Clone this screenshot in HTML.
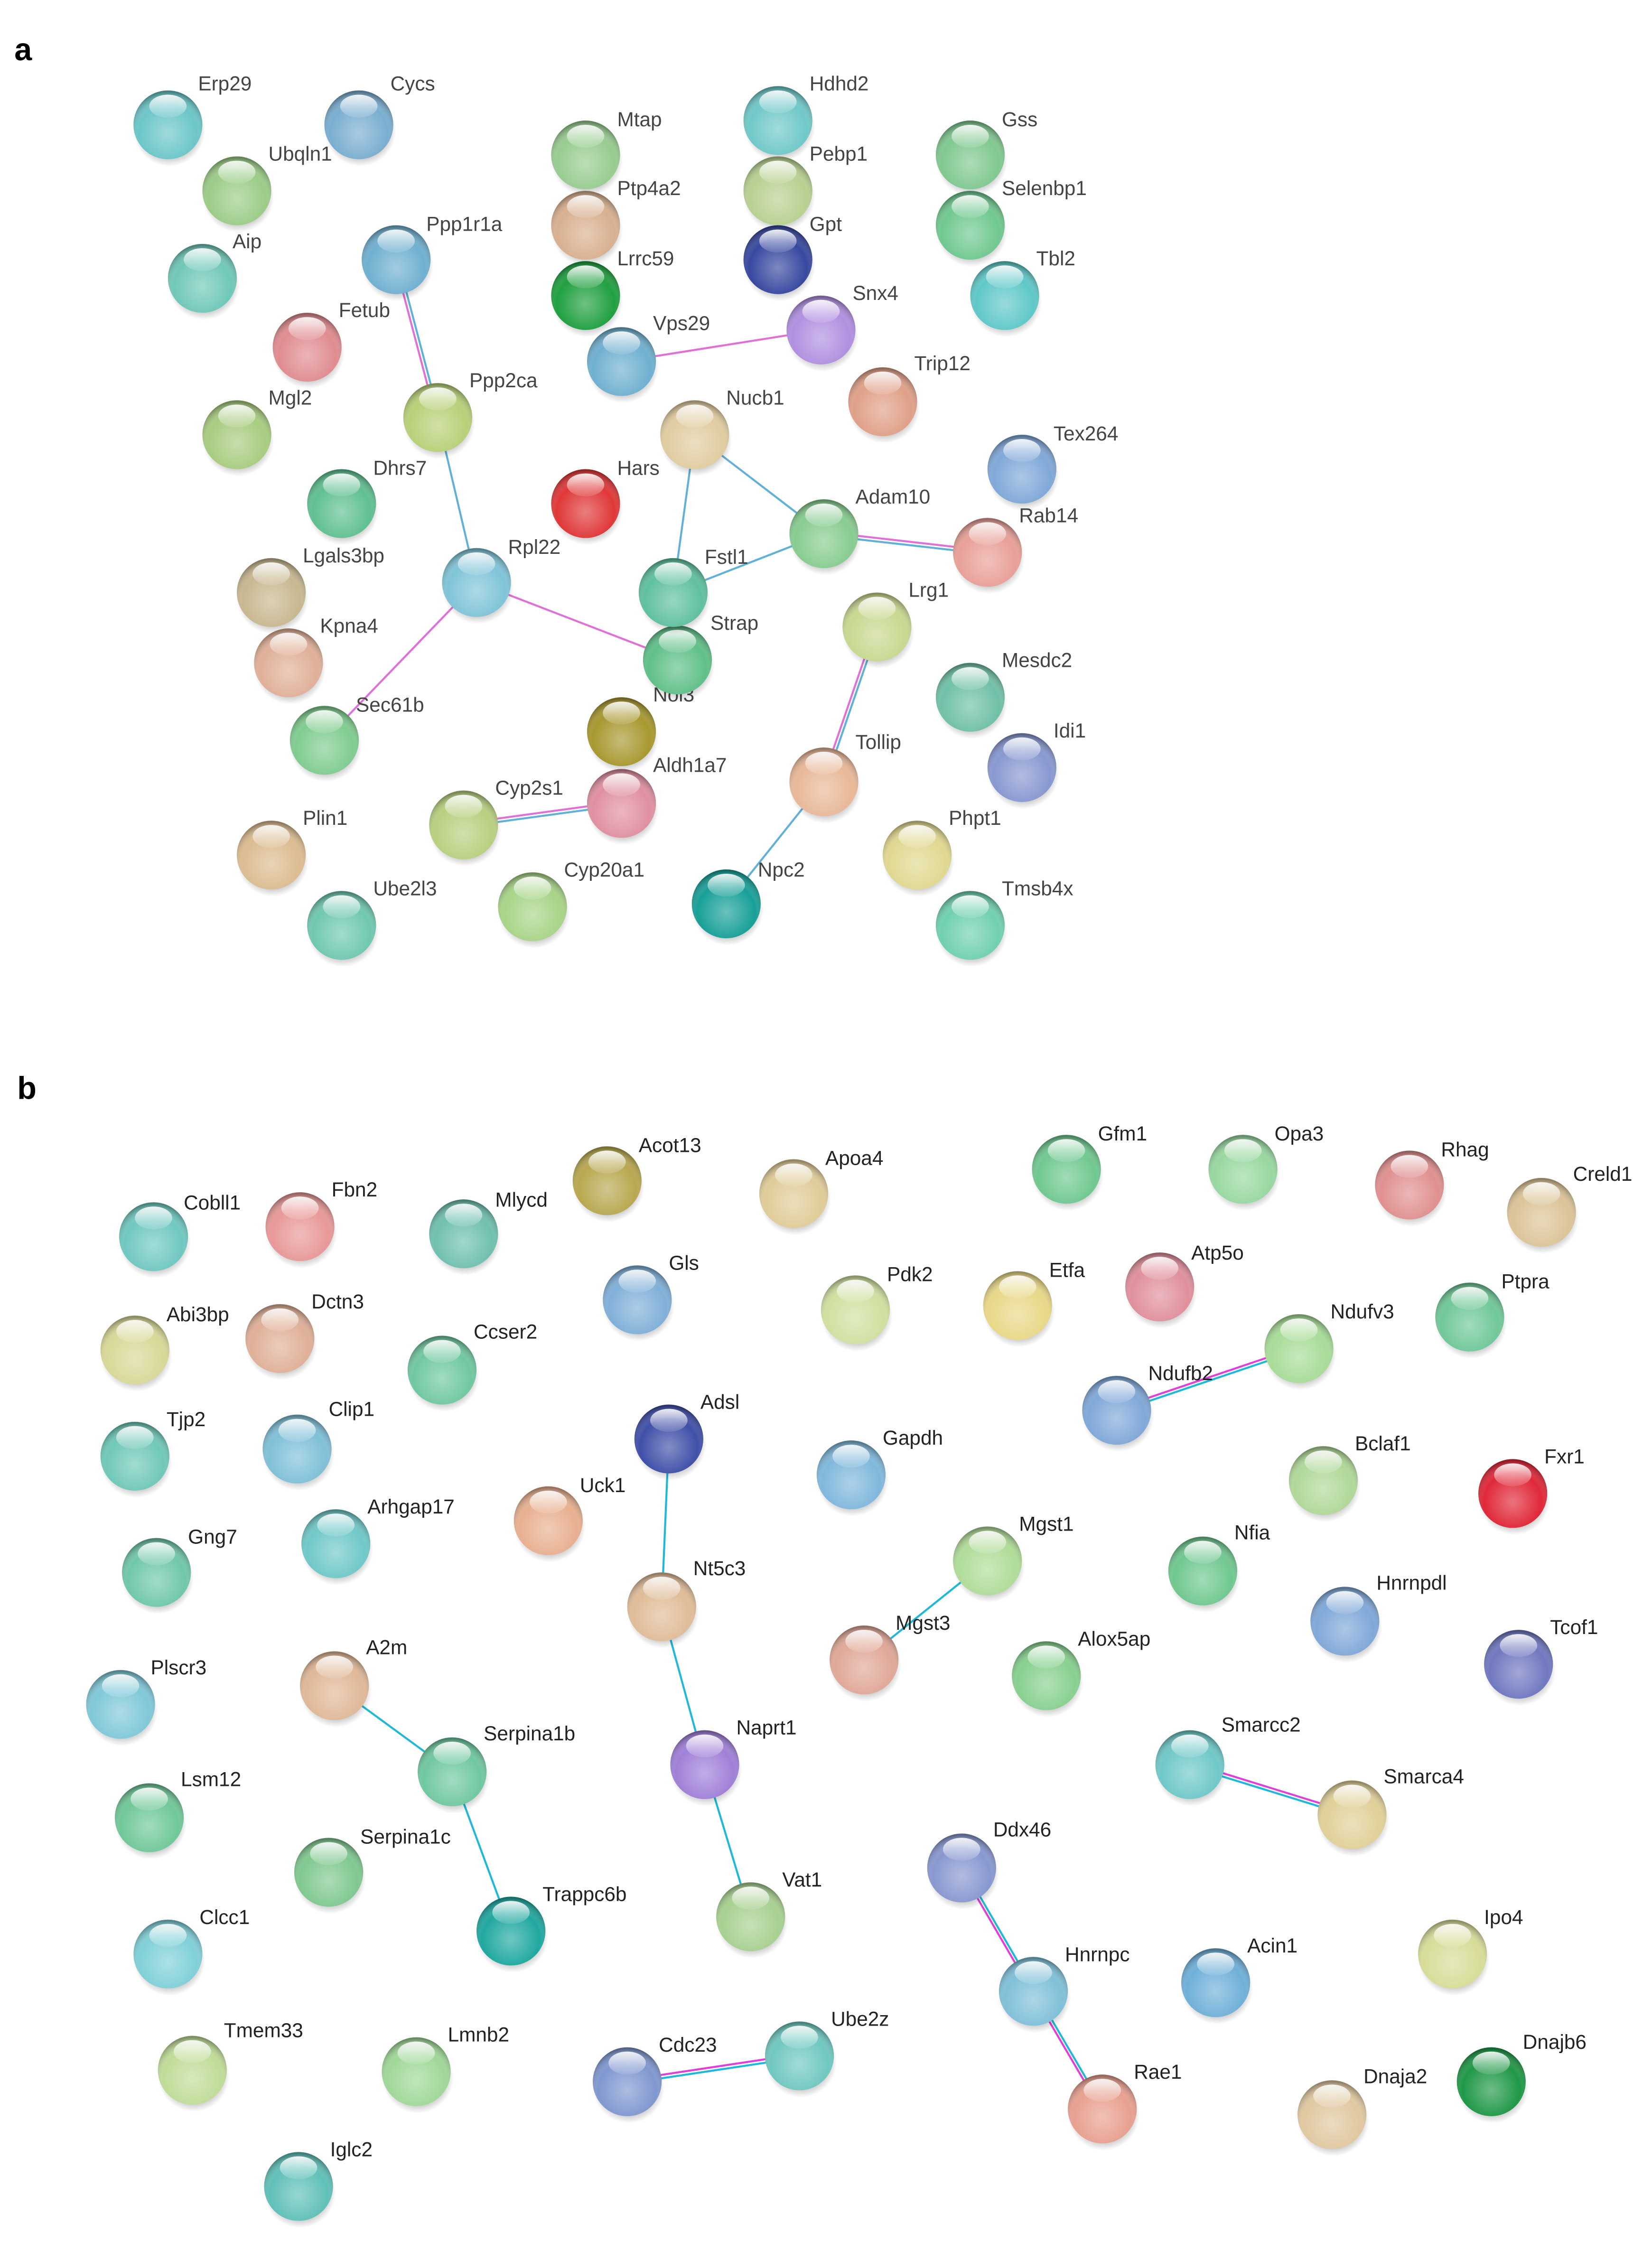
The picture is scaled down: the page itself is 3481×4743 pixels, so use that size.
<!DOCTYPE html>
<html><head><meta charset="utf-8"><style>
html,body{margin:0;padding:0;background:#fff}
svg{display:block}
text{font-family:"Liberation Sans",sans-serif;font-size:14px;fill:#444}
.b text{fill:#222}
.pl{font-size:22px;font-weight:bold;fill:#000}
</style></head><body>
<svg width="3481" height="4743" viewBox="0 0 1151 1569" preserveAspectRatio="none" xmlns="http://www.w3.org/2000/svg">
<defs>
<radialGradient id="sh" cx="0.5" cy="0.62" r="0.6">
<stop offset="0" stop-color="#fff" stop-opacity="0.35"/>
<stop offset="0.7" stop-color="#fff" stop-opacity="0"/>
<stop offset="1" stop-color="#000" stop-opacity="0.35"/>
</radialGradient>
<linearGradient id="hl" x1="0" y1="0" x2="0" y2="1">
<stop offset="0" stop-color="#fff" stop-opacity="0.9"/>
<stop offset="1" stop-color="#fff" stop-opacity="0.1"/>
</linearGradient>
<radialGradient id="sd" cx="0.5" cy="0.5" r="0.5">
<stop offset="0.6" stop-color="#000" stop-opacity="0.35"/>
<stop offset="1" stop-color="#000" stop-opacity="0"/>
</radialGradient>
<g id="ov">
<circle r="24" fill="url(#sh)"/>
<ellipse cx="0" cy="-13" rx="13" ry="8" fill="url(#hl)"/>
</g>
<g id="sdw"><ellipse cx="1" cy="4" rx="25" ry="25" fill="url(#sd)"/></g>
</defs>
<text class="pl" x="10" y="42">a</text>
<text class="pl" x="12" y="766">b</text>

<g stroke-width="1.4" fill="none">
<line x1="274.8" y1="181" x2="303.8" y2="291" stroke="#e070d8"/>
<line x1="277.2" y1="181" x2="306.2" y2="291" stroke="#60b0d8"/>
<line x1="305" y1="291" x2="332" y2="406" stroke="#60b0d8"/>
<line x1="332" y1="406" x2="226" y2="516" stroke="#e070d8"/>
<line x1="332" y1="406" x2="472" y2="460" stroke="#e070d8"/>
<line x1="433" y1="252" x2="572" y2="230" stroke="#e070d8"/>
<line x1="484" y1="303" x2="469" y2="413" stroke="#60b0d8"/>
<line x1="484" y1="303" x2="574" y2="372" stroke="#60b0d8"/>
<line x1="469" y1="413" x2="574" y2="372" stroke="#60b0d8"/>
<line x1="574" y1="370.8" x2="688" y2="383.8" stroke="#e070d8"/>
<line x1="574" y1="373.2" x2="688" y2="386.2" stroke="#60b0d8"/>
<line x1="609.8" y1="437" x2="572.8" y2="545" stroke="#e070d8"/>
<line x1="612.2" y1="437" x2="575.2" y2="545" stroke="#60b0d8"/>
<line x1="574" y1="545" x2="506" y2="630" stroke="#60b0d8"/>
<line x1="323" y1="573.8" x2="433" y2="558.8" stroke="#e070d8"/>
<line x1="323" y1="576.2" x2="433" y2="561.2" stroke="#60b0d8"/>
</g>
<g stroke-width="1.4" fill="none">
<line x1="778" y1="981.8" x2="905" y2="938.8" stroke="#e040d8"/>
<line x1="778" y1="984.2" x2="905" y2="941.2" stroke="#20b8d8"/>
<line x1="466" y1="1003" x2="461" y2="1120" stroke="#20b8d8"/>
<line x1="461" y1="1120" x2="491" y2="1230" stroke="#20b8d8"/>
<line x1="491" y1="1230" x2="523" y2="1336" stroke="#20b8d8"/>
<line x1="688" y1="1088" x2="602" y2="1157" stroke="#20b8d8"/>
<line x1="233" y1="1175" x2="315" y2="1235" stroke="#20b8d8"/>
<line x1="315" y1="1235" x2="356" y2="1346" stroke="#20b8d8"/>
<line x1="829" y1="1228.8" x2="942" y2="1263.8" stroke="#e040d8"/>
<line x1="829" y1="1231.2" x2="942" y2="1266.2" stroke="#20b8d8"/>
<line x1="668.8" y1="1302" x2="718.8" y2="1388" stroke="#e040d8"/>
<line x1="671.2" y1="1302" x2="721.2" y2="1388" stroke="#20b8d8"/>
<line x1="718.8" y1="1388" x2="766.8" y2="1470" stroke="#e040d8"/>
<line x1="721.2" y1="1388" x2="769.2" y2="1470" stroke="#20b8d8"/>
<line x1="437" y1="1449.8" x2="557" y2="1431.8" stroke="#e040d8"/>
<line x1="437" y1="1452.2" x2="557" y2="1434.2" stroke="#20b8d8"/>
</g>

<g>
<g transform="translate(117,87)"><use href="#sdw"/><circle r="24" fill="#6cc6c8"/><use href="#ov"/></g><text x="138" y="63">Erp29</text>
<g transform="translate(250,87)"><use href="#sdw"/><circle r="24" fill="#7aaed0"/><use href="#ov"/></g><text x="272" y="63">Cycs</text>
<g transform="translate(165,133)"><use href="#sdw"/><circle r="24" fill="#9ccc88"/><use href="#ov"/></g><text x="187" y="112">Ubqln1</text>
<g transform="translate(141,194)"><use href="#sdw"/><circle r="24" fill="#70c8b8"/><use href="#ov"/></g><text x="162" y="173">Aip</text>
<g transform="translate(276,181)"><use href="#sdw"/><circle r="24" fill="#70b0d0"/><use href="#ov"/></g><text x="297" y="161">Ppp1r1a</text>
<g transform="translate(214,242)"><use href="#sdw"/><circle r="24" fill="#e08c90"/><use href="#ov"/></g><text x="236" y="221">Fetub</text>
<g transform="translate(165,303)"><use href="#sdw"/><circle r="24" fill="#a8cc80"/><use href="#ov"/></g><text x="187" y="282">Mgl2</text>
<g transform="translate(305,291)"><use href="#sdw"/><circle r="24" fill="#b8d078"/><use href="#ov"/></g><text x="327" y="270">Ppp2ca</text>
<g transform="translate(238,351)"><use href="#sdw"/><circle r="24" fill="#60c090"/><use href="#ov"/></g><text x="260" y="331">Dhrs7</text>
<g transform="translate(189,413)"><use href="#sdw"/><circle r="24" fill="#c8b890"/><use href="#ov"/></g><text x="211" y="392">Lgals3bp</text>
<g transform="translate(332,406)"><use href="#sdw"/><circle r="24" fill="#80c4d8"/><use href="#ov"/></g><text x="354" y="386">Rpl22</text>
<g transform="translate(201,462)"><use href="#sdw"/><circle r="24" fill="#e0b098"/><use href="#ov"/></g><text x="223" y="441">Kpna4</text>
<g transform="translate(226,516)"><use href="#sdw"/><circle r="24" fill="#80cc90"/><use href="#ov"/></g><text x="248" y="496">Sec61b</text>
<g transform="translate(189,596)"><use href="#sdw"/><circle r="24" fill="#dcbc90"/><use href="#ov"/></g><text x="211" y="575">Plin1</text>
<g transform="translate(238,645)"><use href="#sdw"/><circle r="24" fill="#70c8b0"/><use href="#ov"/></g><text x="260" y="624">Ube2l3</text>
<g transform="translate(323,575)"><use href="#sdw"/><circle r="24" fill="#b8d080"/><use href="#ov"/></g><text x="345" y="554">Cyp2s1</text>
<g transform="translate(371,632)"><use href="#sdw"/><circle r="24" fill="#a8d488"/><use href="#ov"/></g><text x="393" y="611">Cyp20a1</text>
<g transform="translate(433,560)"><use href="#sdw"/><circle r="24" fill="#e090a0"/><use href="#ov"/></g><text x="455" y="538">Aldh1a7</text>
<g transform="translate(433,510)"><use href="#sdw"/><circle r="24" fill="#a89830"/><use href="#ov"/></g><text x="455" y="489">Nol3</text>
<g transform="translate(472,460)"><use href="#sdw"/><circle r="24" fill="#60c088"/><use href="#ov"/></g><text x="495" y="439">Strap</text>
<g transform="translate(469,413)"><use href="#sdw"/><circle r="24" fill="#60c0a0"/><use href="#ov"/></g><text x="491" y="393">Fstl1</text>
<g transform="translate(408,108)"><use href="#sdw"/><circle r="24" fill="#98cc90"/><use href="#ov"/></g><text x="430" y="88">Mtap</text>
<g transform="translate(408,157)"><use href="#sdw"/><circle r="24" fill="#d8b090"/><use href="#ov"/></g><text x="430" y="136">Ptp4a2</text>
<g transform="translate(408,206)"><use href="#sdw"/><circle r="24" fill="#20a040"/><use href="#ov"/></g><text x="430" y="185">Lrrc59</text>
<g transform="translate(433,252)"><use href="#sdw"/><circle r="24" fill="#70b0d0"/><use href="#ov"/></g><text x="455" y="230">Vps29</text>
<g transform="translate(408,351)"><use href="#sdw"/><circle r="24" fill="#e03838"/><use href="#ov"/></g><text x="430" y="331">Hars</text>
<g transform="translate(484,303)"><use href="#sdw"/><circle r="24" fill="#e0cca0"/><use href="#ov"/></g><text x="506" y="282">Nucb1</text>
<g transform="translate(542,84)"><use href="#sdw"/><circle r="24" fill="#70c8c8"/><use href="#ov"/></g><text x="564" y="63">Hdhd2</text>
<g transform="translate(542,133)"><use href="#sdw"/><circle r="24" fill="#b8d090"/><use href="#ov"/></g><text x="564" y="112">Pebp1</text>
<g transform="translate(542,181)"><use href="#sdw"/><circle r="24" fill="#3848a0"/><use href="#ov"/></g><text x="564" y="161">Gpt</text>
<g transform="translate(572,230)"><use href="#sdw"/><circle r="24" fill="#b090e0"/><use href="#ov"/></g><text x="594" y="209">Snx4</text>
<g transform="translate(615,280)"><use href="#sdw"/><circle r="24" fill="#e0a088"/><use href="#ov"/></g><text x="637" y="258">Trip12</text>
<g transform="translate(574,372)"><use href="#sdw"/><circle r="24" fill="#88cc90"/><use href="#ov"/></g><text x="596" y="351">Adam10</text>
<g transform="translate(688,385)"><use href="#sdw"/><circle r="24" fill="#e8a098"/><use href="#ov"/></g><text x="710" y="364">Rab14</text>
<g transform="translate(712,327)"><use href="#sdw"/><circle r="24" fill="#80a8d8"/><use href="#ov"/></g><text x="734" y="307">Tex264</text>
<g transform="translate(676,108)"><use href="#sdw"/><circle r="24" fill="#80c890"/><use href="#ov"/></g><text x="698" y="88">Gss</text>
<g transform="translate(676,157)"><use href="#sdw"/><circle r="24" fill="#70c890"/><use href="#ov"/></g><text x="698" y="136">Selenbp1</text>
<g transform="translate(700,206)"><use href="#sdw"/><circle r="24" fill="#60c8c8"/><use href="#ov"/></g><text x="722" y="185">Tbl2</text>
<g transform="translate(611,437)"><use href="#sdw"/><circle r="24" fill="#c8d890"/><use href="#ov"/></g><text x="633" y="416">Lrg1</text>
<g transform="translate(676,486)"><use href="#sdw"/><circle r="24" fill="#70c0a8"/><use href="#ov"/></g><text x="698" y="465">Mesdc2</text>
<g transform="translate(712,535)"><use href="#sdw"/><circle r="24" fill="#8898d0"/><use href="#ov"/></g><text x="734" y="514">Idi1</text>
<g transform="translate(574,545)"><use href="#sdw"/><circle r="24" fill="#e8b898"/><use href="#ov"/></g><text x="596" y="522">Tollip</text>
<g transform="translate(639,596)"><use href="#sdw"/><circle r="24" fill="#e0d890"/><use href="#ov"/></g><text x="661" y="575">Phpt1</text>
<g transform="translate(506,630)"><use href="#sdw"/><circle r="24" fill="#18a098"/><use href="#ov"/></g><text x="528" y="611">Npc2</text>
<g transform="translate(676,645)"><use href="#sdw"/><circle r="24" fill="#70d0b0"/><use href="#ov"/></g><text x="698" y="624">Tmsb4x</text>
</g>

<g class="b">
<g transform="translate(107,862)"><use href="#sdw"/><circle r="24" fill="#70c8c0"/><use href="#ov"/></g><text x="128" y="843">Cobll1</text>
<g transform="translate(209,855)"><use href="#sdw"/><circle r="24" fill="#e89898"/><use href="#ov"/></g><text x="231" y="834">Fbn2</text>
<g transform="translate(323,860)"><use href="#sdw"/><circle r="24" fill="#70c0b0"/><use href="#ov"/></g><text x="345" y="841">Mlycd</text>
<g transform="translate(423,823)"><use href="#sdw"/><circle r="24" fill="#b8a850"/><use href="#ov"/></g><text x="445" y="803">Acot13</text>
<g transform="translate(553,832)"><use href="#sdw"/><circle r="24" fill="#e0cc98"/><use href="#ov"/></g><text x="575" y="812">Apoa4</text>
<g transform="translate(743,815)"><use href="#sdw"/><circle r="24" fill="#70c890"/><use href="#ov"/></g><text x="765" y="795">Gfm1</text>
<g transform="translate(866,815)"><use href="#sdw"/><circle r="24" fill="#98d8a0"/><use href="#ov"/></g><text x="888" y="795">Opa3</text>
<g transform="translate(982,826)"><use href="#sdw"/><circle r="24" fill="#e09090"/><use href="#ov"/></g><text x="1004" y="806">Rhag</text>
<g transform="translate(1074,845)"><use href="#sdw"/><circle r="24" fill="#dcc498"/><use href="#ov"/></g><text x="1096" y="823">Creld1</text>
<g transform="translate(444,906)"><use href="#sdw"/><circle r="24" fill="#80b0d8"/><use href="#ov"/></g><text x="466" y="885">Gls</text>
<g transform="translate(596,913)"><use href="#sdw"/><circle r="24" fill="#d0e0a0"/><use href="#ov"/></g><text x="618" y="893">Pdk2</text>
<g transform="translate(709,910)"><use href="#sdw"/><circle r="24" fill="#e8d888"/><use href="#ov"/></g><text x="731" y="890">Etfa</text>
<g transform="translate(808,897)"><use href="#sdw"/><circle r="24" fill="#e0909c"/><use href="#ov"/></g><text x="830" y="878">Atp5o</text>
<g transform="translate(905,940)"><use href="#sdw"/><circle r="24" fill="#a8dc98"/><use href="#ov"/></g><text x="927" y="919">Ndufv3</text>
<g transform="translate(1024,918)"><use href="#sdw"/><circle r="24" fill="#70c898"/><use href="#ov"/></g><text x="1046" y="898">Ptpra</text>
<g transform="translate(94,941)"><use href="#sdw"/><circle r="24" fill="#d8d898"/><use href="#ov"/></g><text x="116" y="921">Abi3bp</text>
<g transform="translate(195,933)"><use href="#sdw"/><circle r="24" fill="#e0b098"/><use href="#ov"/></g><text x="217" y="912">Dctn3</text>
<g transform="translate(308,955)"><use href="#sdw"/><circle r="24" fill="#70c8a0"/><use href="#ov"/></g><text x="330" y="933">Ccser2</text>
<g transform="translate(778,983)"><use href="#sdw"/><circle r="24" fill="#80a8d8"/><use href="#ov"/></g><text x="800" y="962">Ndufb2</text>
<g transform="translate(94,1015)"><use href="#sdw"/><circle r="24" fill="#70c8b8"/><use href="#ov"/></g><text x="116" y="994">Tjp2</text>
<g transform="translate(207,1010)"><use href="#sdw"/><circle r="24" fill="#80c0d8"/><use href="#ov"/></g><text x="229" y="987">Clip1</text>
<g transform="translate(466,1003)"><use href="#sdw"/><circle r="24" fill="#4050a8"/><use href="#ov"/></g><text x="488" y="982">Adsl</text>
<g transform="translate(593,1028)"><use href="#sdw"/><circle r="24" fill="#80b8dc"/><use href="#ov"/></g><text x="615" y="1007">Gapdh</text>
<g transform="translate(922,1032)"><use href="#sdw"/><circle r="24" fill="#b0d898"/><use href="#ov"/></g><text x="944" y="1011">Bclaf1</text>
<g transform="translate(1054,1041)"><use href="#sdw"/><circle r="24" fill="#e02838"/><use href="#ov"/></g><text x="1076" y="1020">Fxr1</text>
<g transform="translate(109,1096)"><use href="#sdw"/><circle r="24" fill="#70c8a8"/><use href="#ov"/></g><text x="131" y="1076">Gng7</text>
<g transform="translate(234,1076)"><use href="#sdw"/><circle r="24" fill="#70c8c8"/><use href="#ov"/></g><text x="256" y="1055">Arhgap17</text>
<g transform="translate(382,1060)"><use href="#sdw"/><circle r="24" fill="#e8b090"/><use href="#ov"/></g><text x="404" y="1040">Uck1</text>
<g transform="translate(461,1120)"><use href="#sdw"/><circle r="24" fill="#e0bc98"/><use href="#ov"/></g><text x="483" y="1098">Nt5c3</text>
<g transform="translate(688,1088)"><use href="#sdw"/><circle r="24" fill="#b0dc98"/><use href="#ov"/></g><text x="710" y="1067">Mgst1</text>
<g transform="translate(838,1095)"><use href="#sdw"/><circle r="24" fill="#70c890"/><use href="#ov"/></g><text x="860" y="1073">Nfia</text>
<g transform="translate(937,1130)"><use href="#sdw"/><circle r="24" fill="#80a8d8"/><use href="#ov"/></g><text x="959" y="1108">Hnrnpdl</text>
<g transform="translate(1058,1160)"><use href="#sdw"/><circle r="24" fill="#7078c0"/><use href="#ov"/></g><text x="1080" y="1139">Tcof1</text>
<g transform="translate(602,1157)"><use href="#sdw"/><circle r="24" fill="#e0a898"/><use href="#ov"/></g><text x="624" y="1136">Mgst3</text>
<g transform="translate(729,1168)"><use href="#sdw"/><circle r="24" fill="#88d090"/><use href="#ov"/></g><text x="751" y="1147">Alox5ap</text>
<g transform="translate(84,1188)"><use href="#sdw"/><circle r="24" fill="#80c8d8"/><use href="#ov"/></g><text x="105" y="1167">Plscr3</text>
<g transform="translate(233,1175)"><use href="#sdw"/><circle r="24" fill="#e0b898"/><use href="#ov"/></g><text x="255" y="1153">A2m</text>
<g transform="translate(315,1235)"><use href="#sdw"/><circle r="24" fill="#70c8a0"/><use href="#ov"/></g><text x="337" y="1213">Serpina1b</text>
<g transform="translate(491,1230)"><use href="#sdw"/><circle r="24" fill="#a080d8"/><use href="#ov"/></g><text x="513" y="1209">Naprt1</text>
<g transform="translate(829,1230)"><use href="#sdw"/><circle r="24" fill="#70c8c8"/><use href="#ov"/></g><text x="851" y="1207">Smarcc2</text>
<g transform="translate(942,1265)"><use href="#sdw"/><circle r="24" fill="#e0d098"/><use href="#ov"/></g><text x="964" y="1243">Smarca4</text>
<g transform="translate(104,1267)"><use href="#sdw"/><circle r="24" fill="#70c898"/><use href="#ov"/></g><text x="126" y="1245">Lsm12</text>
<g transform="translate(670,1302)"><use href="#sdw"/><circle r="24" fill="#8898d0"/><use href="#ov"/></g><text x="692" y="1280">Ddx46</text>
<g transform="translate(229,1305)"><use href="#sdw"/><circle r="24" fill="#80c890"/><use href="#ov"/></g><text x="251" y="1285">Serpina1c</text>
<g transform="translate(356,1346)"><use href="#sdw"/><circle r="24" fill="#20a8a0"/><use href="#ov"/></g><text x="378" y="1325">Trappc6b</text>
<g transform="translate(523,1336)"><use href="#sdw"/><circle r="24" fill="#a8d090"/><use href="#ov"/></g><text x="545" y="1315">Vat1</text>
<g transform="translate(117,1362)"><use href="#sdw"/><circle r="24" fill="#80d0d8"/><use href="#ov"/></g><text x="139" y="1341">Clcc1</text>
<g transform="translate(1012,1362)"><use href="#sdw"/><circle r="24" fill="#d8dc98"/><use href="#ov"/></g><text x="1034" y="1341">Ipo4</text>
<g transform="translate(720,1388)"><use href="#sdw"/><circle r="24" fill="#80c0d8"/><use href="#ov"/></g><text x="742" y="1367">Hnrnpc</text>
<g transform="translate(847,1382)"><use href="#sdw"/><circle r="24" fill="#70b0d8"/><use href="#ov"/></g><text x="869" y="1361">Acin1</text>
<g transform="translate(134,1443)"><use href="#sdw"/><circle r="24" fill="#c0dc98"/><use href="#ov"/></g><text x="156" y="1420">Tmem33</text>
<g transform="translate(290,1444)"><use href="#sdw"/><circle r="24" fill="#a0d898"/><use href="#ov"/></g><text x="312" y="1423">Lmnb2</text>
<g transform="translate(437,1451)"><use href="#sdw"/><circle r="24" fill="#8098d0"/><use href="#ov"/></g><text x="459" y="1430">Cdc23</text>
<g transform="translate(557,1433)"><use href="#sdw"/><circle r="24" fill="#70c8c0"/><use href="#ov"/></g><text x="579" y="1412">Ube2z</text>
<g transform="translate(768,1470)"><use href="#sdw"/><circle r="24" fill="#e8a090"/><use href="#ov"/></g><text x="790" y="1449">Rae1</text>
<g transform="translate(928,1474)"><use href="#sdw"/><circle r="24" fill="#e0c8a0"/><use href="#ov"/></g><text x="950" y="1452">Dnaja2</text>
<g transform="translate(1039,1451)"><use href="#sdw"/><circle r="24" fill="#209848"/><use href="#ov"/></g><text x="1061" y="1428">Dnajb6</text>
<g transform="translate(208,1524)"><use href="#sdw"/><circle r="24" fill="#60c0b8"/><use href="#ov"/></g><text x="230" y="1503">Iglc2</text>
</g>
</svg>
</body></html>
